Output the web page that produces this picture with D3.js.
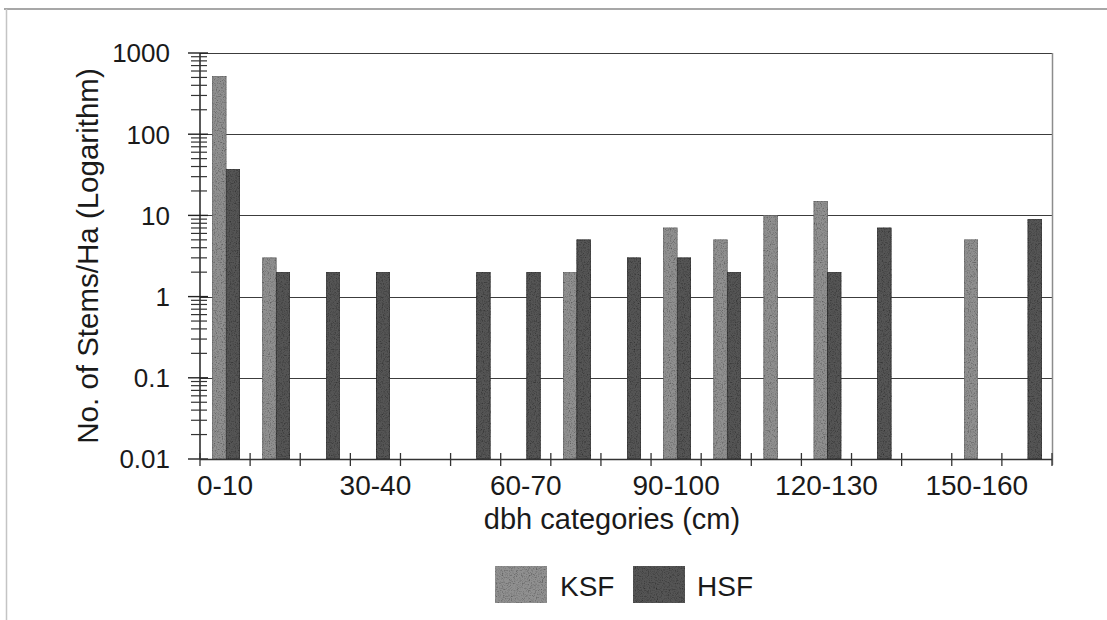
<!DOCTYPE html>
<html>
<head>
<meta charset="utf-8">
<script src="https://cdn.jsdelivr.net/npm/d3@7"></script>
<style>
  html, body { margin: 0; padding: 0; background: #fff; }
  svg { display: block; font-family: "Liberation Sans", Arial, sans-serif; }
</style>
</head>
<body>
<svg id="chart" width="1107" height="620"></svg>
<script>
// Diameter-at-breast-height classes (cm)
const categories = ["0-10", "10-20", "20-30", "30-40", "40-50", "50-60", "60-70",
  "70-80", "80-90", "90-100", "100-110", "110-120", "120-130", "130-140",
  "140-150", "150-160", "160-170"];
// Stems per hectare; null = no stems recorded in that class
const ksfValues = [520, 3, null, null, null, null, null, 2, null, 7, 5, 10, 15, null, null, 5, null];
const hsfValues = [37, 2, 2, 2, null, 2, 2, 5, 3, 3, 2, null, 2, 7, null, null, 9];
const seriesNames = ["KSF", "HSF"];
const yTickValues = [0.01, 0.1, 1, 10, 100, 1000];
const xLabelEvery = 3;

const svg = d3.select("#chart");
const W = 1107, H = 620;
const plot = { left: 200, right: 1052, top: 53, bottom: 459 };
const colors = { KSF: "#909090", HSF: "#555555" };

// Speckled print texture for the bar fills
const defs = svg.append("defs");
const grain = defs.append("filter").attr("id", "grain")
  .attr("x", 0).attr("y", 0).attr("width", "100%").attr("height", "100%");
grain.append("feTurbulence").attr("type", "fractalNoise").attr("baseFrequency", 0.85)
  .attr("numOctaves", 2).attr("seed", 4).attr("result", "noise");
grain.append("feColorMatrix").attr("in", "noise").attr("type", "matrix")
  .attr("values", "0 0 0 0 0  0 0 0 0 0  0 0 0 0 0  0 0 0 -1.6 0.85").attr("result", "dark");
grain.append("feComposite").attr("in", "dark").attr("in2", "SourceGraphic")
  .attr("operator", "in").attr("result", "speck");
const merge = grain.append("feMerge");
merge.append("feMergeNode").attr("in", "SourceGraphic");
merge.append("feMergeNode").attr("in", "speck");

// Outer frame
svg.append("line").attr("x1", 4).attr("x2", W).attr("y1", 9).attr("y2", 9)
  .attr("stroke", "#8a8a8a").attr("stroke-width", 1.5);
svg.append("line").attr("x1", 6.5).attr("x2", 6.5).attr("y1", 9).attr("y2", H)
  .attr("stroke", "#c4c4c4").attr("stroke-width", 1.5);

const x0 = d3.scaleBand().domain(categories).range([plot.left, plot.right]);
const bw = x0.bandwidth();
const x1 = d3.scaleBand().domain(seriesNames).range([bw * 0.25, bw * 0.79]);
const y = d3.scaleLog().domain([0.01, 1000]).range([plot.bottom, plot.top]);

// Decade gridlines
svg.append("g").selectAll("line").data(yTickValues).join("line")
  .attr("x1", plot.left).attr("x2", plot.right)
  .attr("y1", d => Math.round(y(d)) + 0.5).attr("y2", d => Math.round(y(d)) + 0.5)
  .attr("stroke", "#3c3c3c").attr("stroke-width", 1.2);
// Right border of the plot area
svg.append("line").attr("x1", plot.right + 0.5).attr("x2", plot.right + 0.5)
  .attr("y1", plot.top).attr("y2", plot.bottom + 6)
  .attr("stroke", "#8c8c8c").attr("stroke-width", 1.5);

// Bars
const rows = categories.map((c, i) => ({ cat: c, KSF: ksfValues[i], HSF: hsfValues[i] }));
const bars = svg.append("g");
rows.forEach(r => {
  seriesNames.forEach(s => {
    const v = r[s];
    if (v == null) return;
    bars.append("rect")
      .attr("x", x0(r.cat) + x1(s))
      .attr("width", x1.bandwidth())
      .attr("y", y(v))
      .attr("height", y(0.01) - y(v))
      .attr("fill", colors[s])
      .attr("filter", "url(#grain)")
      .attr("stroke", s === "KSF" ? "#6a6a6a" : "#2e2e2e")
      .attr("stroke-width", 0.8);
  });
});

// Y axis with log minor ticks crossing the axis line
const yAxis = svg.append("g");
yAxis.append("line").attr("x1", plot.left).attr("x2", plot.left)
  .attr("y1", plot.top).attr("y2", plot.bottom)
  .attr("stroke", "#222").attr("stroke-width", 1.5);
const minorTicks = y.ticks().filter(t => !yTickValues.some(m => Math.abs(m - t) / m < 1e-9));
yAxis.selectAll("line.minor").data(minorTicks).join("line").attr("class", "minor")
  .attr("x1", plot.left - 9).attr("x2", plot.left + 7)
  .attr("y1", d => y(d)).attr("y2", d => y(d))
  .attr("stroke", "#333").attr("stroke-width", 1.2);
yAxis.selectAll("line.major").data(yTickValues).join("line").attr("class", "major")
  .attr("x1", plot.left - 12).attr("x2", plot.left + 8)
  .attr("y1", d => y(d)).attr("y2", d => y(d))
  .attr("stroke", "#222").attr("stroke-width", 1.4);
yAxis.selectAll("text").data(yTickValues).join("text")
  .attr("x", 170).attr("y", d => y(d)).attr("dy", "0.36em")
  .attr("text-anchor", "end").attr("font-size", 26).attr("fill", "#1a1a1a")
  .text(d => String(d));

// X axis: boundary ticks crossing the axis, labels on every third class
const xAxis = svg.append("g");
xAxis.append("line").attr("x1", plot.left).attr("x2", plot.right)
  .attr("y1", plot.bottom + 0.5).attr("y2", plot.bottom + 0.5)
  .attr("stroke", "#333").attr("stroke-width", 1.5);
const bounds = categories.map(c => x0(c)).concat([x0(categories[categories.length - 1]) + bw]);
xAxis.selectAll("line.tick").data(bounds).join("line").attr("class", "tick")
  .attr("x1", d => d).attr("x2", d => d)
  .attr("y1", plot.bottom - 6).attr("y2", plot.bottom + 7)
  .attr("stroke", "#333").attr("stroke-width", 1.3);
xAxis.selectAll("text").data(categories.filter((c, i) => i % xLabelEvery === 0)).join("text")
  .attr("x", d => x0(d) + bw / 2).attr("y", 495)
  .attr("text-anchor", "middle").attr("font-size", 28).attr("fill", "#1a1a1a")
  .text(d => d);

// Axis titles
svg.append("text").attr("x", 612).attr("y", 529)
  .attr("text-anchor", "middle").attr("font-size", 29).attr("fill", "#1a1a1a")
  .text("dbh categories (cm)");
svg.append("text").attr("transform", "translate(98,256) rotate(-90)")
  .attr("text-anchor", "middle").attr("font-size", 29.5).attr("fill", "#1a1a1a")
  .text("No. of Stems/Ha (Logarithm)");

// Legend
const legendItems = [
  { name: "KSF", sx: 495, tx: 560 },
  { name: "HSF", sx: 633, tx: 697 }
];
const legend = svg.append("g");
legendItems.forEach(it => {
  legend.append("rect").attr("x", it.sx).attr("y", 566).attr("width", 52).attr("height", 37)
    .attr("fill", colors[it.name]).attr("filter", "url(#grain)");
  legend.append("text").attr("x", it.tx).attr("y", 596)
    .attr("font-size", 28).attr("fill", "#1a1a1a").text(it.name);
});
</script>
</body>
</html>
